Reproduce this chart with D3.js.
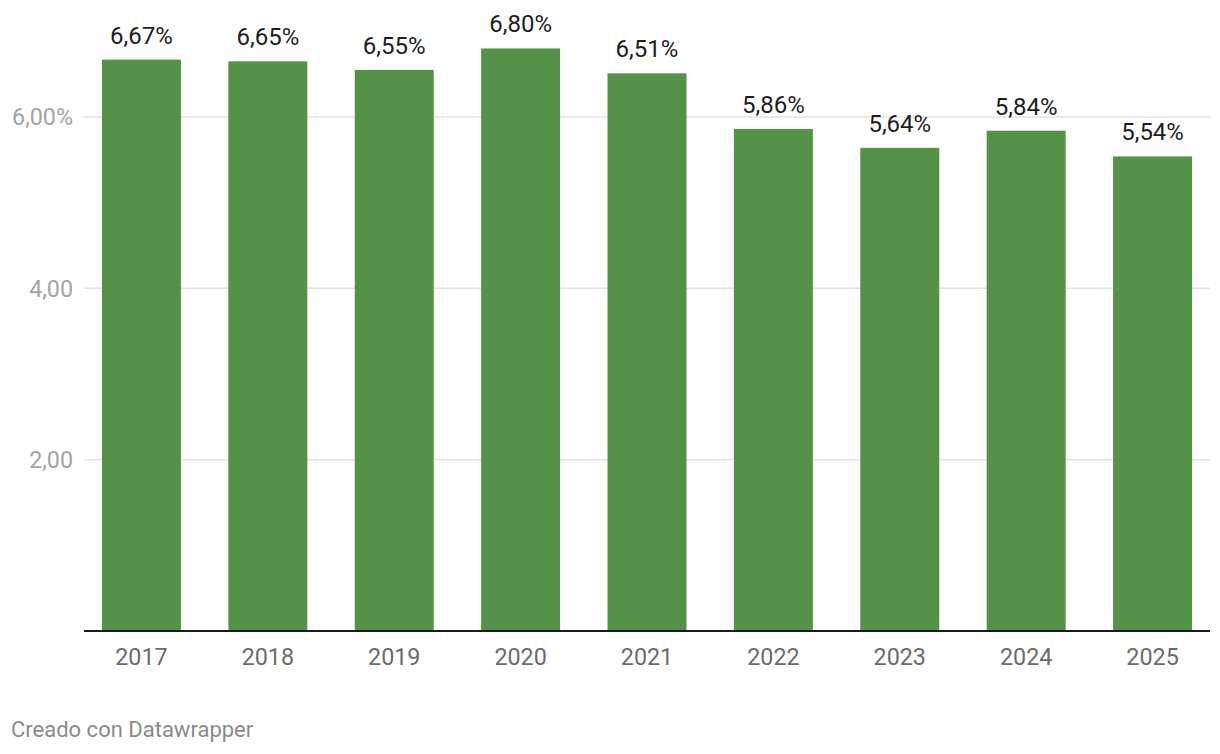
<!DOCTYPE html>
<html>
<head>
<meta charset="utf-8">
<script src="https://cdn.jsdelivr.net/npm/d3@7"></script>
<style>
  html, body { margin: 0; padding: 0; background: #fff; }
  svg { display: block; font-family: Roboto, "Noto Sans", sans-serif; }
</style>
</head>
<body>
<svg id="chart" width="1220" height="754"></svg>
<script>
const years = ["2017", "2018", "2019", "2020", "2021", "2022", "2023", "2024", "2025"];
const values = [6.67, 6.65, 6.55, 6.80, 6.51, 5.86, 5.64, 5.84, 5.54];
const yTicks = [2, 4, 6];
const yTickLabels = ["2,00", "4,00", "6,00%"];
const footerText = "Creado con Datawrapper";

const fmt = v => v.toFixed(2).replace(".", ",") + "%";

const svg = d3.select("#chart");
const left = 84, right = 1210, baseY = 631, topY6 = 117;

const x = d3.scaleBand()
  .domain(years)
  .range([left, right])
  .paddingInner(0.375)
  .paddingOuter(0.142);

const y = d3.scaleLinear()
  .domain([0, 6])
  .range([baseY, topY6]);

// gridlines
const grid = svg.append("g");
grid.selectAll("line")
  .data(yTicks)
  .join("line")
  .attr("x1", left)
  .attr("x2", right)
  .attr("y1", d => y(d))
  .attr("y2", d => y(d))
  .attr("stroke", "#e2e2e2")
  .attr("stroke-width", 1.5);

// y tick labels
svg.append("g").selectAll("text")
  .data(yTicks)
  .join("text")
  .attr("x", 73)
  .attr("y", d => y(d))
  .attr("dy", "0.36em")
  .attr("text-anchor", "end")
  .attr("font-size", 23.3)
  .attr("fill", "#a3a3a3")
  .text((d, i) => yTickLabels[i]);

// bars
svg.append("g").selectAll("rect")
  .data(values)
  .join("rect")
  .attr("x", (d, i) => x(years[i]))
  .attr("width", x.bandwidth())
  .attr("y", d => y(d))
  .attr("height", d => baseY - y(d))
  .attr("fill", "#549347");

// value labels
svg.append("g").selectAll("text")
  .data(values)
  .join("text")
  .attr("x", (d, i) => x(years[i]) + x.bandwidth() / 2)
  .attr("y", d => y(d) - 16)
  .attr("text-anchor", "middle")
  .attr("font-size", 24)
  .attr("fill", "#1d1d1d")
  .text(d => fmt(d));

// baseline axis
svg.append("line")
  .attr("x1", left)
  .attr("x2", right)
  .attr("y1", baseY)
  .attr("y2", baseY)
  .attr("stroke", "#1a1a1a")
  .attr("stroke-width", 2);

// x labels
const xAxis = d3.axisBottom(x).tickSize(0).tickPadding(0);
const xg = svg.append("g")
  .attr("transform", `translate(0,${baseY})`)
  .call(xAxis);
xg.select(".domain").remove();
xg.selectAll("text")
  .attr("y", 34)
  .attr("dy", 0)
  .attr("font-size", 23.3)
  .attr("font-family", "Roboto, sans-serif")
  .attr("fill", "#6b6b6b");

// footer
svg.append("text")
  .attr("x", 11)
  .attr("y", 737)
  .attr("font-size", 22)
  .attr("fill", "#8a8a8a")
  .text(footerText);
</script>
</body>
</html>
